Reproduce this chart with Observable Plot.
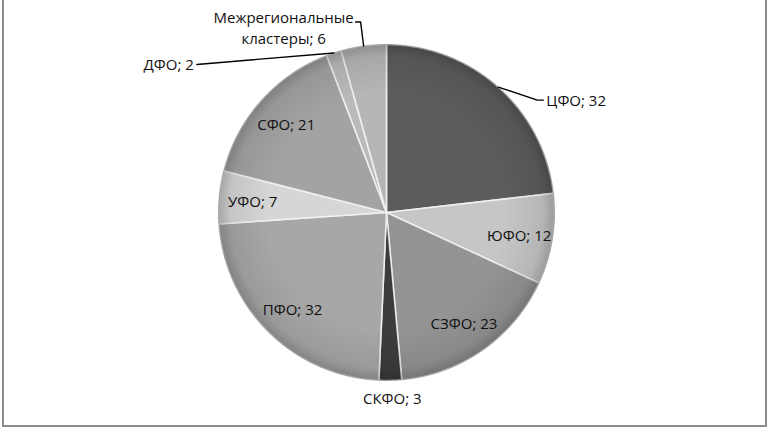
<!DOCTYPE html>
<html>
<head>
<meta charset="utf-8">
<script src="https://cdn.jsdelivr.net/npm/d3@7"></script>
<script src="https://cdn.jsdelivr.net/npm/@observablehq/plot@0.6"></script>
<style>
  body { margin: 0; background: #fff; }
  #wrap { position: relative; width: 772px; height: 432px; }
  #frame { position: absolute; left: 2px; top: 0; width: 765px; height: 427px; box-sizing: border-box;
           border-left: 2px solid #8c8c8c; border-right: 2px solid #8c8c8c; border-bottom: 2px solid #8c8c8c; pointer-events: none; }
  svg { position: absolute; left: 0; top: 0; }
</style>
</head>
<body>
<div id="wrap"><div id="frame"></div></div>
<script>
// ---- data ----
const categories = ["ЦФО", "ЮФО", "СЗФО", "СКФО", "ПФО", "УФО", "СФО", "ДФО", "Межрегиональные кластеры"];
const values = [32, 12, 23, 3, 32, 7, 21, 2, 6];
const labels = ["ЦФО; 32", "ЮФО; 12", "СЗФО; 23", "СКФО; 3", "ПФО; 32", "УФО; 7", "СФО; 21", "ДФО; 2", "Межрегиональные\nкластеры; 6"];

// ---- style ----
const colors = ["#5c5c5c", "#c6c6c6", "#949494", "#3c3c3c", "#a7a7a7", "#d6d6d6", "#a3a3a3", "#bababa", "#b6b6b6"];
const W = 772, H = 432, CX = 386, CY = 212, R = 168;
// outside labels: leader offsets (px) from arc point, text offset (px) from last leader point
const outside = {
  "ЦФО": {leader: [[39, 13], [45, 13]], text: [3, -1], anchor: "start"},
  "СКФО": {leader: [], text: [2, 17], anchor: "middle", noLine: true},
  "ДФО": {leader: [[-137, 11.5]], text: [-3, -1], anchor: "end"},
  "Межрегиональные кластеры": {leader: [[-3, -24], [-8, -24]], text: [-72, 5], anchor: "middle"}
};
const insideR = 0.8;

// ---- layout ----
const arcs = d3.pie().sort(null).value(d => d.value)(categories.map((c, i) => ({name: c, value: values[i], label: labels[i], color: colors[i]})));
const toUnit = ([px, py]) => [px / R, -py / R];
const polar = (a, r) => [Math.sin(a) * r, Math.cos(a) * r];

const slicePts = [];
arcs.forEach(a => {
  slicePts.push({name: a.data.name, color: a.data.color, x: 0, y: 0});
  const n = Math.max(2, Math.ceil((a.endAngle - a.startAngle) / 0.01));
  for (let k = 0; k <= n; k++) {
    const ang = a.startAngle + (a.endAngle - a.startAngle) * k / n;
    const [x, y] = polar(ang, 1);
    slicePts.push({name: a.data.name, color: a.data.color, x, y});
  }
  slicePts.push({name: a.data.name, color: a.data.color, x: 0, y: 0});
});

const circlePts = d3.range(0, 361).map(d => { const [x, y] = polar(d * Math.PI / 180, 1); return {x, y}; });

const leaderPts = [];
const labelPts = [];
arcs.forEach(a => {
  const mid = (a.startAngle + a.endAngle) / 2;
  const o = outside[a.data.name];
  if (!o) {
    const [x, y] = polar(mid, insideR);
    labelPts.push({x, y, text: a.data.label, anchor: "middle"});
    return;
  }
  const [ax, ay] = polar(mid, 1);
  let last = [ax, ay];
  if (!o.noLine) {
    leaderPts.push({name: a.data.name, x: ax, y: ay});
    o.leader.forEach(off => {
      const [ux, uy] = toUnit(off);
      last = [ax + ux, ay + uy];
      leaderPts.push({name: a.data.name, x: last[0], y: last[1]});
    });
  }
  const [tx, ty] = toUnit(o.text);
  labelPts.push({x: last[0] + tx, y: last[1] + ty, text: a.data.label, anchor: o.anchor});
});

const textOpts = {x: "x", y: "y", text: "text", fontSize: 15, fill: "#111", lineHeight: 1.4};

const plot = Plot.plot({
  width: W, height: H,
  margin: 0,
  x: {domain: [-1, 1], range: [CX - R, CX + R], axis: null},
  y: {domain: [-1, 1], range: [CY + R, CY - R], axis: null},
  style: {fontFamily: "'Open Sans', sans-serif", background: "transparent"},
  marks: [
    Plot.line(slicePts, {x: "x", y: "y", z: "name", fill: "color", stroke: "#f4f4f4", strokeWidth: 1.6, strokeOpacity: 0.85, curve: "linear"}),
    Plot.line(circlePts, {x: "x", y: "y", fill: "url(#edgeShade)", stroke: "#6a6a6a", strokeWidth: 0.8, strokeOpacity: 0.6}),
    Plot.line(leaderPts, {x: "x", y: "y", z: "name", stroke: "#000", strokeWidth: 1.4}),
    Plot.text(labelPts.filter(d => d.anchor === "middle"), {...textOpts, textAnchor: "middle"}),
    Plot.text(labelPts.filter(d => d.anchor === "start"), {...textOpts, textAnchor: "start"}),
    Plot.text(labelPts.filter(d => d.anchor === "end"), {...textOpts, textAnchor: "end"})
  ]
});

// radial gradient for edge shading
const ns = "http://www.w3.org/2000/svg";
const defs = document.createElementNS(ns, "defs");
defs.innerHTML = `<radialGradient id="edgeShade" cx="0.5" cy="0.5" r="0.5">
  <stop offset="0" stop-color="#000" stop-opacity="0"/>
  <stop offset="0.7" stop-color="#000" stop-opacity="0"/>
  <stop offset="0.93" stop-color="#000" stop-opacity="0.08"/>
  <stop offset="1" stop-color="#000" stop-opacity="0.22"/>
</radialGradient>`;
plot.insertBefore(defs, plot.firstChild);
document.getElementById("wrap").appendChild(plot);
</script>
</body>
</html>
